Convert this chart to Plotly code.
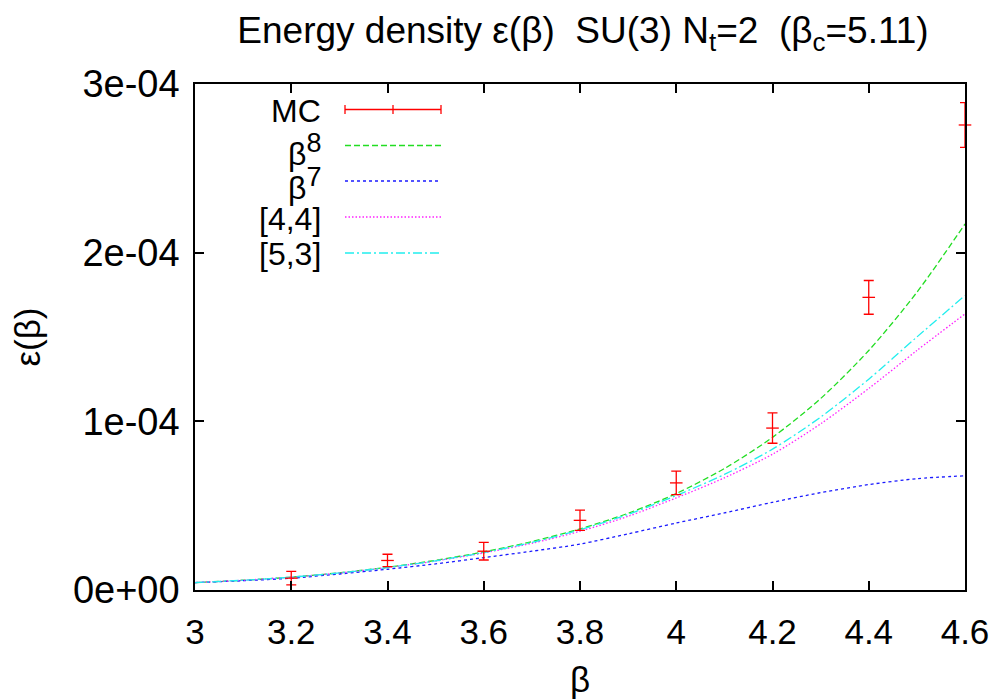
import plotly.graph_objects as go

# ---- data (units of 1e-4) ----
mc_beta = [3.2, 3.4, 3.6, 3.8, 4.0, 4.2, 4.4, 4.6]
mc_eps = [0.070, 0.175, 0.230, 0.413, 0.635, 0.960, 1.735, 2.757]
mc_err = [0.040, 0.037, 0.052, 0.060, 0.070, 0.090, 0.100, 0.133]

curve_beta = [3.0, 3.1, 3.2, 3.3, 3.4, 3.5, 3.6, 3.7, 3.8, 3.9, 4.0, 4.1, 4.2, 4.3, 4.4, 4.5, 4.6]
beta8 = [0.044, 0.058, 0.076, 0.102, 0.135, 0.176, 0.226, 0.287, 0.362, 0.455, 0.572, 0.720, 0.905, 1.135, 1.420, 1.765, 2.170]
beta7 = [0.044, 0.055, 0.070, 0.095, 0.123, 0.155, 0.192, 0.230, 0.272, 0.333, 0.397, 0.457, 0.520, 0.577, 0.625, 0.660, 0.677]
pade44 = [0.044, 0.058, 0.076, 0.101, 0.133, 0.172, 0.220, 0.277, 0.348, 0.437, 0.546, 0.665, 0.805, 0.985, 1.195, 1.420, 1.637]
pade53 = [0.044, 0.058, 0.076, 0.101, 0.133, 0.173, 0.222, 0.282, 0.357, 0.448, 0.560, 0.685, 0.835, 1.025, 1.250, 1.500, 1.746]

scale = 1e-4
y_ticks = [0, 1e-4, 2e-4, 3e-4]
y_ticktext = ["0e+00", "1e-04", "2e-04", "3e-04"]
x_ticks = [3, 3.2, 3.4, 3.6, 3.8, 4, 4.2, 4.4, 4.6]
x_ticktext = ["3", "3.2", "3.4", "3.6", "3.8", "4", "4.2", "4.4", "4.6"]

FONT = "Liberation Sans, Arial, sans-serif"
FS = 35
RED = "#ff0000"
GREEN = "#22dd22"
BLUE = "#1a1aff"
MAGENTA = "#ff22ff"
CYAN = "#22eeee"

SUP = "<sup><span style='font-size:27px'>{}</span></sup>"
styles = [
    ("β" + SUP.format("8"), beta8, GREEN, "6px,3px"),
    ("β" + SUP.format("7"), beta7, BLUE, "3px,3px"),
    ("[4,4]", pade44, MAGENTA, "1.5px,2px"),
    ("[5,3]", pade53, CYAN, "9px,3px,2px,3px"),
]

fig = go.Figure()
for name, vals, col, dash in styles:
    fig.add_trace(go.Scatter(
        x=curve_beta, y=[v * scale for v in vals], mode="lines", name=name,
        line=dict(color=col, width=1.3, dash=dash, shape="spline", smoothing=0.8),
        showlegend=False, hoverinfo="skip"))

fig.add_trace(go.Scatter(
    x=mc_beta, y=[v * scale for v in mc_eps], mode="markers", name="MC",
    marker=dict(symbol="line-ew", size=9, line=dict(color=RED, width=1.3)),
    error_y=dict(type="data", array=[e * scale for e in mc_err], color=RED,
                 thickness=1.3, width=5),
    cliponaxis=False, showlegend=False))

# page has an 8px body margin: figure is 989x692 placed at (8,8)
OFF = 8
W, H = 997 - OFF, 700 - OFF
# plot box in page pixels
L, R, T, B = 195, 965, 84, 590
def px(x):
    return (x - L) / (R - L)
def py(y):
    return (B - y) / (B - T)

shapes = []
annotations = []
legend_rows = [("MC", None, None, 109.5)] + [
    (n, c, d, yy) for (n, _, c, d), yy in zip(styles, [145.5, 181, 217, 253])]
text_dy = [1, 4, 3, 2, 1]
for (name, col, dash, yy), dy in zip(legend_rows, text_dy):
    annotations.append(dict(
        x=px(323), y=py(yy + dy), xref="paper", yref="paper", text=name,
        showarrow=False, xanchor="right", yanchor="middle",
        font=dict(family=FONT, size=32, color="black")))
    if col is None:
        shapes.append(dict(type="line", xref="paper", yref="paper",
                           x0=px(345), x1=px(441), y0=py(yy), y1=py(yy),
                           line=dict(color=RED, width=1.3)))
        for xx in (345, 393, 441):
            shapes.append(dict(type="line", xref="paper", yref="paper",
                               x0=px(xx), x1=px(xx), y0=py(yy - 4.5), y1=py(yy + 4.5),
                               line=dict(color=RED, width=1.3)))
    else:
        shapes.append(dict(type="line", xref="paper", yref="paper",
                           x0=px(345), x1=px(441), y0=py(yy), y1=py(yy),
                           line=dict(color=col, width=1.3, dash=dash)))

fig.update_layout(
    width=W, height=H,
    margin=dict(l=L - OFF, r=W - (R - OFF), t=T - OFF, b=H - (B - OFF), autoexpand=False),
    paper_bgcolor="white", plot_bgcolor="white",
    font=dict(family=FONT, size=FS, color="black"),
    title=dict(text="Energy density ε(β)\u00a0\u00a0SU(3) N<sub>t</sub>=2\u00a0\u00a0(β<sub>c</sub>=5.11)",
               x=(583 - OFF) / W, xanchor="center", y=1 - (30 - OFF) / H, yanchor="middle",
               font=dict(family=FONT, size=37)),
    xaxis=dict(range=[3, 4.6], tickvals=x_ticks, ticktext=x_ticktext,
               ticks="inside", ticklen=9, tickwidth=1.5, tickcolor="black",
               showline=True, linecolor="black", linewidth=1.5, mirror="ticks",
               showgrid=False, zeroline=False, ticklabelstandoff=10, automargin=False,
               tickfont=dict(size=35),
               title=dict(text="β", standoff=18, font=dict(size=FS))),
    yaxis=dict(range=[0, 3e-4], tickvals=y_ticks, ticktext=y_ticktext,
               ticks="inside", ticklen=9, tickwidth=1.5, tickcolor="black",
               showline=True, linecolor="black", linewidth=1.5, mirror="ticks",
               showgrid=False, zeroline=False, ticklabelstandoff=6, automargin=False,
               tickfont=dict(size=38),
               title=dict(text="ε(β)", standoff=22, font=dict(size=FS))),
    shapes=shapes, annotations=annotations,
)

fig.write_html("out.html")
